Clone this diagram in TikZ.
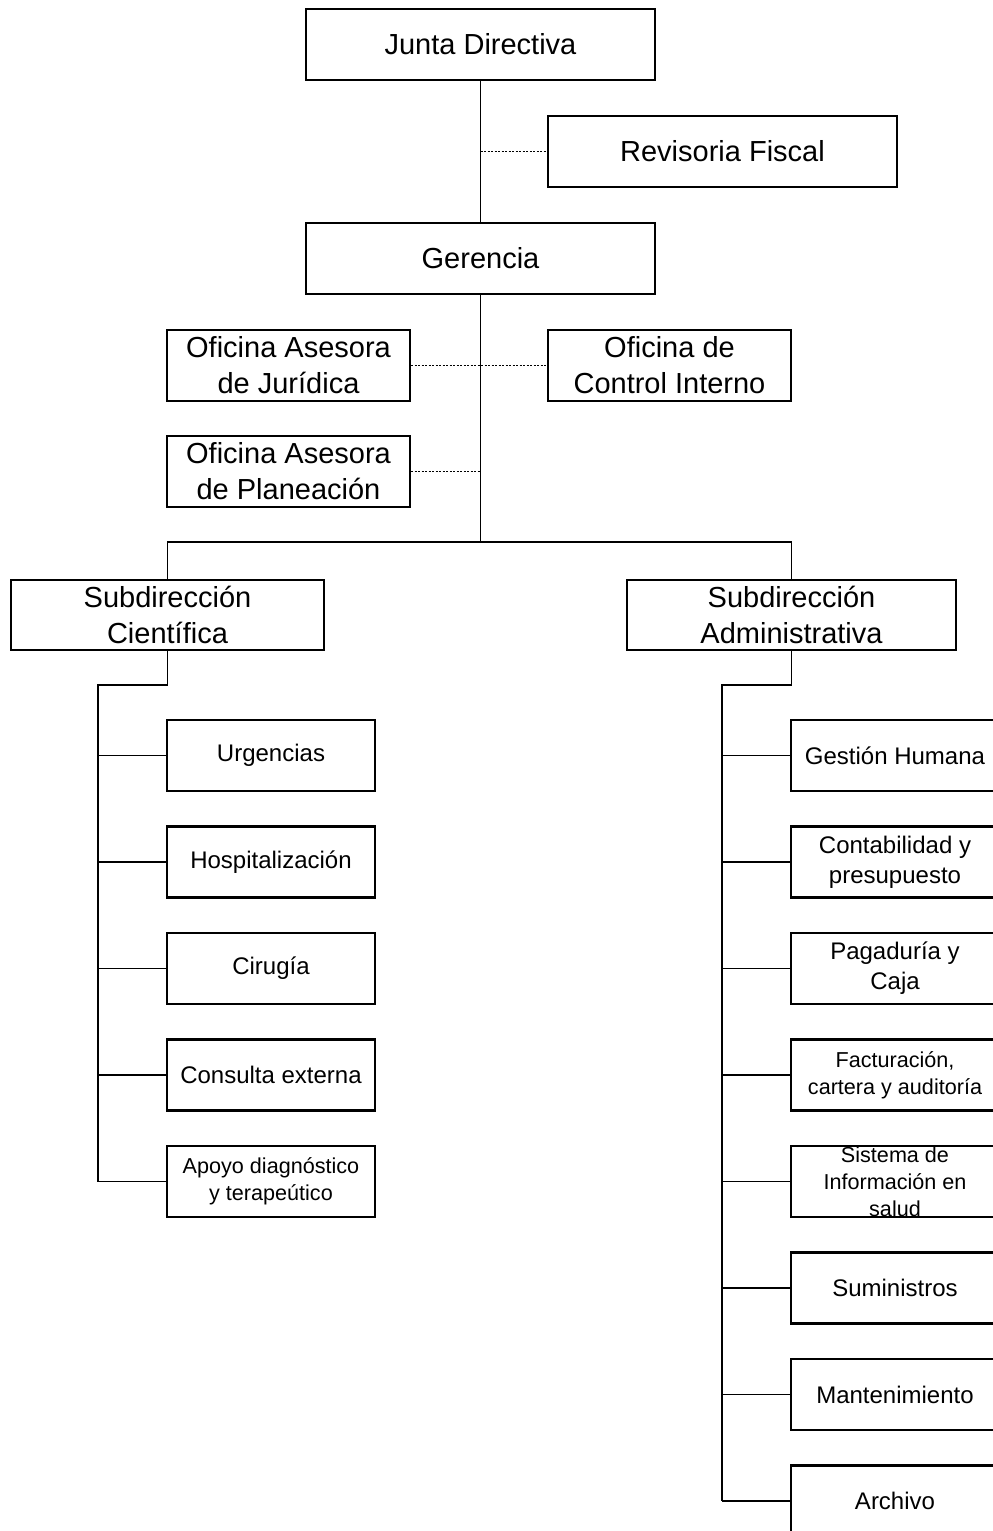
\documentclass[tikz,border=0pt]{standalone}
\usepackage{fontspec}
\setmainfont{Liberation Sans}
\usepackage{tikz}
\usetikzlibrary{positioning}
\newcommand{\bigtxt}{\fontsize{29}{36}\selectfont}
\newcommand{\midtxt}{\fontsize{24}{30}\selectfont}
\newcommand{\smalltxt}{\fontsize{21.6}{27}\selectfont}

\begin{document}
\begin{tikzpicture}[x=1pt,y=-1pt,
    box/.style={draw,line width=2.1pt,inner sep=0pt,align=center,minimum height=71pt},
    link/.style={line width=1.3pt},
    advise/.style={line width=1.2pt,dash pattern=on 2pt off 1.5pt}]
  \useasboundingbox (0,0) rectangle (993,1531);
  \clip (0,0) rectangle (993,1531);
  % top of the chart
  \node[box,font=\bigtxt,minimum width=349pt] (junta) at (480.5,44.5) {Junta Directiva};
  \node[box,font=\bigtxt,minimum width=349pt] (revisoria) at (722.5,151.5) {Revisoria Fiscal};
  \node[box,font=\bigtxt,minimum width=349pt] (gerencia) at (480.5,258.5) {Gerencia};
  \node[box,font=\bigtxt,minimum width=243pt] (juridica) at (288.5,365.5) {Oficina Asesora\\de Jurídica};
  \node[box,font=\bigtxt,minimum width=243pt] (control) at (669.5,365.5) {Oficina de\\Control Interno};
  \node[box,font=\bigtxt,minimum width=243pt] (planeacion) at (288.5,471.5) {Oficina Asesora\\de Planeación};
  \node[box,font=\bigtxt,minimum width=313pt,minimum height=70pt] (cientifica) at (167.5,615) {Subdirección\\Científica};
  \node[box,font=\bigtxt,minimum width=329pt,minimum height=70pt] (administrativa) at (791.5,615) {Subdirección\\Administrativa};
  \coordinate (fiscalpt) at (480.5,151.5);
  \coordinate (planpt) at (480.5,471.5);
  \coordinate (bus) at (480.5,542);
  \draw[link] (junta) -- (gerencia);
  \draw[advise] (fiscalpt) -- (revisoria);
  \draw[link] (gerencia) -- (bus);
  \draw[advise] (juridica) -- (control);
  \draw[advise] (planeacion) -- (planpt);
  \draw[link] (cientifica.north) |- (bus) -| (administrativa.north);
  % subdireccion cientifica
  \coordinate (cjoint) at (98,685);
  \foreach \n/\lab/\fs/\k in {urgencias/{Urgencias}/\midtxt/0,
      hospital/{Hospitalización}/\midtxt/1,
      cirugia/{Cirugía}/\midtxt/2,
      consulta/{Consulta externa}/\midtxt/3,
      apoyo/{Apoyo diagnóstico\\y terapeútico}/\smalltxt/4} {
    \node[box,font=\fs,minimum width=208pt] (\n) at (271,755.5+106.5*\k) {\lab};
    \draw[link] (cjoint |- \n) -- (\n);
  }
  \draw[link] (cientifica.south) |- (cjoint) -- (cjoint |- apoyo);
  % subdireccion administrativa
  \coordinate (ajoint) at (722,685);
  \foreach \n/\lab/\fs/\k in {humana/{Gestión Humana}/\midtxt/0,
      conta/{Contabilidad y\\presupuesto}/\midtxt/1,
      pagaduria/{Pagaduría y\\Caja}/\midtxt/2,
      factura/{Facturación,\\cartera y auditoría}/\smalltxt/3,
      sistema/{Sistema de\\Información en\\salud}/\smalltxt/4,
      suministros/{Suministros}/\midtxt/5,
      manten/{Mantenimiento}/\midtxt/6,
      archivo/{Archivo}/\midtxt/7} {
    \node[box,font=\fs,minimum width=208pt] (\n) at (895,755.5+106.5*\k) {\lab};
    \draw[link] (ajoint |- \n) -- (\n);
  }
  \draw[link] (administrativa.south) |- (ajoint) -- (ajoint |- archivo);
\end{tikzpicture}
\end{document}
